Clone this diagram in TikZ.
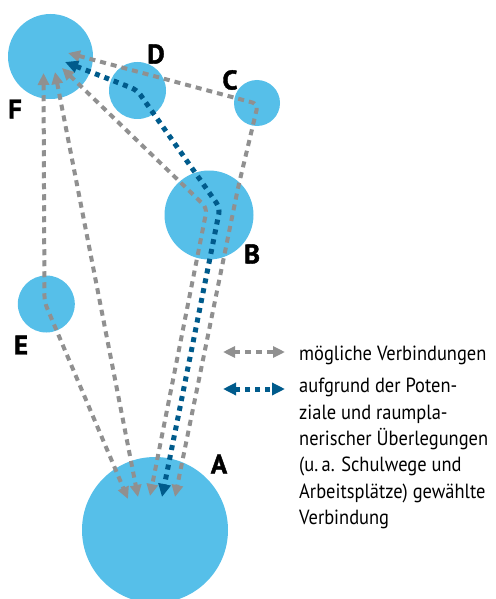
\documentclass[tikz,border=0pt]{standalone}
\usepackage{fontspec}
\setmainfont{PT Sans}[FakeStretch=0.9]
\newfontfamily\lblfont{PT Sans}[BoldFeatures={FakeBold=1.5}]
\usetikzlibrary{arrows.meta}
\definecolor{circblue}{HTML}{56BFE9}
\definecolor{lgray}{HTML}{909090}
\definecolor{dblue}{HTML}{005B8C}
\begin{document}
\begin{tikzpicture}[x=1pt,y=-1pt,
  circ/.style={circle,fill=circblue,inner sep=0pt},
  lbl/.style={font=\lblfont\fontsize{27}{27}\selectfont\bfseries,inner sep=0pt},
  possible/.style={draw=lgray,line width=4pt,dash pattern=on 6pt off 5pt,rounded corners=6pt,
    {Triangle[length=12pt,width=11pt,fill=lgray]}-{Triangle[length=12pt,width=11pt,fill=lgray]}},
  chosen/.style={draw=dblue,line width=5pt,dash pattern=on 5pt off 5pt,rounded corners=6pt,
    {Triangle[length=13pt,width=12pt,fill=dblue]}-{Triangle[length=13pt,width=12pt,fill=dblue]}},
  legtext/.style={font=\fontsize{20.5}{26.4}\selectfont,inner sep=0pt,anchor=west,align=left}
]
\useasboundingbox (0,0) rectangle (495,599);
\clip (0,0) rectangle (495,599);
% circles
\node[circ,minimum size=85pt] (F) at (50.5,56.5) {};
\node[circ,minimum size=57pt] (D) at (137.5,90.5) {};
\node[circ,minimum size=46pt] (C) at (257,103) {};
\node[circ,minimum size=89pt] (B) at (209,215) {};
\node[circ,minimum size=57pt] (E) at (46.3,304) {};
\node[circ,minimum size=146pt] (A) at (155,530) {};
% labels
\node[lbl] (lF) at (15,109) {F};
\node[lbl] (lD) at (156,54) {D};
\node[lbl] (lC) at (230,80) {C};
\node[lbl] (lB) at (252,254) {B};
\node[lbl] (lE) at (21,345) {E};
\node[lbl] (lA) at (219,464) {A};
% connector end points
\coordinate (f1) at (43.5,73);
\coordinate (f2) at (55,72);
\coordinate (f3) at (62,68);
\coordinate (f4) at (68,53);
\coordinate (f5) at (65,62);
\coordinate (a1) at (128,499);
\coordinate (a2) at (138,497);
\coordinate (a3) at (150,496);
\coordinate (a4) at (175,497);
\coordinate (a5) at (162,497);
\coordinate (eb) at (44.5,302);
\coordinate (bb) at (207,208);
\coordinate (cb) at (258,104);
\coordinate (cm) at (238,188);
\coordinate (db) at (137,90);
\coordinate (bb2) at (220,208);
% connectors
\draw[possible] (f1) -- (eb) -- (a1);
\draw[possible] (f2) -- (a2);
\draw[possible] (f3) -- (bb) -- (a3);
\draw[possible] (f4) -- (cb) -- (cm) -- (a4);
\draw[chosen] (f5) -- (db) -- (bb2) -- (a5);
% legend
\coordinate (g1) at (223,352);
\coordinate (g2) at (285,352);
\coordinate (h1) at (223,389);
\coordinate (h2) at (285,389);
\draw[possible] (g1) -- (g2);
\draw[chosen] (h1) -- (h2);
\node[legtext] (t1) at (299,355) {mögliche Verbindungen};
\node[legtext,anchor=north west] (t2) at (299,378) {aufgrund der Poten-\\ziale und raumpla-\\nerischer Überlegungen\\(u.\,a. Schulwege und\\Arbeitsplätze) gewählte\\Verbindung};
\end{tikzpicture}
\end{document}
